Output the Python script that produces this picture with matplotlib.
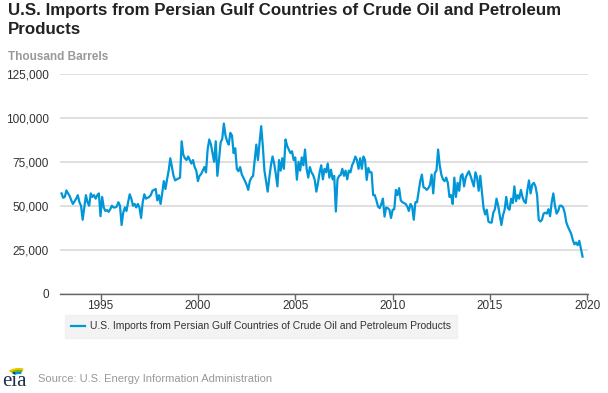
import numpy as np
import matplotlib
matplotlib.use('Agg')
import matplotlib.pyplot as plt
from matplotlib.patches import Arc

plt.rcParams['font.family'] = ['Liberation Sans', 'DejaVu Sans']

# monthly imports, thousand barrels (values in thousands), Jan 1993 - Oct 2019
y1993 = [57, 54.5, 55, 58.7, 57, 55.5, 53, 51, 52.5, 54, 56, 52]
y1994 = [50, 42, 49, 56, 52, 50, 57, 55, 56, 54, 56, 57]
y1995 = [44, 55, 49, 47, 47.5, 46.5, 48, 50, 49, 49, 49.5, 52]
y1996 = [50, 39, 46, 49, 47, 52, 56.5, 54, 50, 51, 49, 51]
y1997 = [49, 43, 52, 56.5, 54, 54.5, 55, 56, 58.5, 59, 59.5, 53]
y1998 = [56, 51, 57, 64, 59.5, 65, 70, 77, 72, 67, 64.4, 65]
y1999 = [65.5, 66, 86.7, 79, 77, 76, 78, 76, 74, 76, 72, 70]
y2000 = [64, 67, 68, 70, 72, 69, 82, 87.7, 85, 80, 75, 86.7]
y2001 = [67, 76, 86, 88, 96.8, 90, 86.7, 84.8, 91.5, 90, 80, 82.7]
y2002 = [71, 69.6, 72, 68, 66, 64, 62, 59, 64, 66, 67, 76]
y2003 = [84.8, 76, 86, 95.3, 84, 70, 64, 58, 66, 73, 78, 74]
y2004 = [68, 61, 76, 70, 77, 71, 87.7, 84, 82, 80, 81, 76]
y2005 = [77.5, 64.8, 75, 70, 77.5, 73, 82, 71, 66, 72, 69, 67.5]
y2006 = [64.7, 58, 63, 69, 73, 65, 71, 69, 74, 66, 70.5, 65]
y2007 = [67, 46.7, 65, 67, 67.5, 71, 67, 70, 65, 70, 69, 73]
y2008 = [75, 78, 76, 71, 77, 71, 78, 76, 64.7, 71.5, 69, 69]
y2009 = [56, 56, 53, 49.5, 48.6, 51, 54, 43.8, 49, 48.6, 47.7, 43]
y2010 = [47.7, 48, 59, 56, 60, 53, 52, 51.5, 51, 49.5, 47, 51]
y2011 = [49.5, 42, 52, 52, 58, 64, 67.7, 60.5, 60, 59, 60, 61.8]
y2012 = [67.7, 57, 68.6, 70, 82, 73, 67.7, 65, 64, 66, 63, 55]
y2013 = [56, 51, 66, 55, 63, 58.5, 67, 68, 61, 66, 68, 69.6]
y2014 = [67, 64, 61, 69, 66, 58.5, 67, 58, 48.6, 45, 47.7, 41]
y2015 = [40.4, 40.4, 46, 48, 54, 50, 44.6, 39, 44.6, 47.7, 55, 48.6]
y2016 = [47.7, 54, 51.5, 61, 52.5, 56, 54, 59, 55, 52.4, 51.5, 59]
y2017 = [64.4, 57, 62, 63, 61, 56, 42, 41, 42, 45.5, 46, 45.5]
y2018 = [48, 44, 52, 57, 50, 45.5, 47, 50, 50, 49, 46, 40.5]
y2019 = [38, 36, 34, 30.5, 28, 29, 27.5, 30, 25.6, 21]

yearly = [y1993, y1994, y1995, y1996, y1997, y1998, y1999, y2000, y2001,
          y2002, y2003, y2004, y2005, y2006, y2007, y2008, y2009, y2010,
          y2011, y2012, y2013, y2014, y2015, y2016, y2017, y2018, y2019]
values = np.concatenate([np.array(v) for v in yearly]) * 1000
years = 1993 + np.arange(len(values)) / 12.0

series_name = 'U.S. Imports from Persian Gulf Countries of Crude Oil and Petroleum Products'
x_ticks = [1995, 2000, 2005, 2010, 2015, 2020]
y_ticks = [0, 25000, 50000, 75000, 100000, 125000]

fig = plt.figure(figsize=(6.08, 3.93), dpi=100)
ax = fig.add_axes([60 / 608, 1 - 293.5 / 393, 528 / 608, 219.5 / 393])

ax.plot(years, values, color='#0096d7', lw=1.6, label=series_name)

ax.set_xlim(1992.92, 2020.03)
ax.set_ylim(0, 125000)
ax.set_yticks(y_ticks)
ax.set_yticklabels(['{:,}'.format(v) for v in y_ticks])
ax.set_xticks(x_ticks)
ax.set_xticklabels([str(v) for v in x_ticks])
ax.grid(axis='y', color='#d9d9d9', lw=1.2)
ax.set_axisbelow(True)
for s in ['top', 'right', 'left']:
    ax.spines[s].set_visible(False)
ax.spines['bottom'].set_color('#666666')
ax.spines['bottom'].set_linewidth(1.0)
ax.tick_params(axis='y', length=0, pad=8, labelsize=8.5, labelcolor='#333333')
ax.tick_params(axis='x', length=4, width=1, color='#666666', pad=1,
               labelsize=8.5, labelcolor='#333333')

fig.text(8 / 608, 1 - 3 / 393, series_name.replace('Crude Oil and Petroleum ', 'Crude Oil and Petroleum\n'),
         ha='left', va='top', fontsize=12.2, fontweight='bold', color='#222222',
         linespacing=1.3)
fig.text(8 / 608, 1 - 57 / 393, 'Thousand Barrels', ha='left', va='center',
         fontsize=8.5, fontweight='bold', color='#999999')

leg = fig.legend(loc='upper left', bbox_to_anchor=(60 / 608, 1 - 310 / 393),
                 frameon=True, fontsize=7.45, handlelength=1.3, borderpad=0.6,
                 handletextpad=0.5)
leg.get_frame().set_facecolor('#f0f0f0')
leg.get_frame().set_edgecolor('#f0f0f0')
leg.get_frame().set_boxstyle('square', pad=0)
for t in leg.get_texts():
    t.set_color('#333333')

# eia logo and source
fig.text(2 / 608, 1 - 381 / 393, 'eia', ha='left', va='center', fontsize=15,
         family='Liberation Serif', color='#1f2f4a')
for r, c in [(13, '#f2c500'), (10, '#7ab800'), (7, '#0096d7')]:
    fig.add_artist(Arc((19, 393 - 377), 2 * r, 1.2 * r, theta1=60, theta2=150,
                       color=c, lw=1.8, transform=None))
fig.text(38 / 608, 1 - 379 / 393, 'Source: U.S. Energy Information Administration',
         ha='left', va='center', fontsize=8, color='#999999')

fig.savefig('out.png', dpi=100)
